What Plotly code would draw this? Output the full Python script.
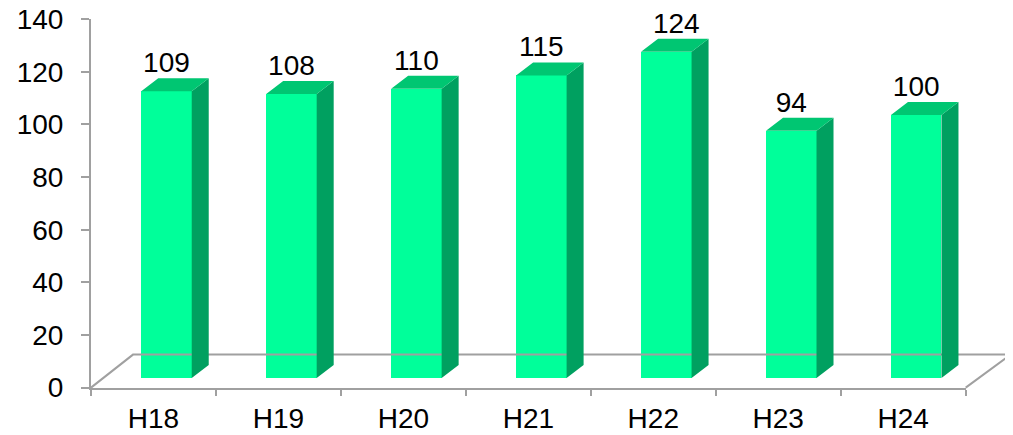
import plotly.graph_objects as go

# ---- data ----
CATEGORIES = ["H18", "H19", "H20", "H21", "H22", "H23", "H24"]
VALUES = [109, 108, 110, 115, 124, 94, 100]
Y_TICKS = [0, 20, 40, 60, 80, 100, 120, 140]

# ---- style / geometry (pixels, page coordinates of the reference) ----
PAGE_OFF = 8  # default page body margin
W, H = 1013 - PAGE_OFF, 435 - PAGE_OFF
AX_LEFT, AX_RIGHT = 91.0 - PAGE_OFF, 965.7 - PAGE_OFF
Y0_PX, YTOP_PX = 387.6 - PAGE_OFF, 19.2 - PAGE_OFF
YMAX = 140
CAT_PX = (AX_RIGHT - AX_LEFT) / len(CATEGORIES)
VAL_PX = (Y0_PX - YTOP_PX) / YMAX

FLOOR_BACK_LEFT_DX, FLOOR_BACK_RIGHT_DX, FLOOR_DY = 42, 45, 33
BAR_FRONT_DX, BAR_FRONT_DY = 13, 9.5
BAR_W_PX = 50.5
BAR_DEPTH_DX, BAR_DEPTH_DY = 17, 13
LABEL_GAP_PX = 13
LABEL_NUDGE_PX = [0, 0, 0, 0, 10, 0, 0]

FRONT_C, TOP_C, SIDE_C = "#00FF9A", "#00C672", "#00A060"
LINE_C = "#A0A0A0"
FONT = "Liberation Sans, Arial, sans-serif"
FS = 28

def ux(px):
    return px / CAT_PX

def uy(px):
    return px / VAL_PX

fig = go.Figure()

# helper trace on the visible axes (gives category ticks)
fig.add_trace(go.Scatter(x=CATEGORIES, y=VALUES, mode="markers",
                         marker=dict(opacity=0), hoverinfo="skip",
                         showlegend=False, xaxis="x", yaxis="y"))

# floor outline
n = len(CATEGORIES)
xl, xr = -0.5, n - 0.5
fx = [xl, xl + ux(FLOOR_BACK_LEFT_DX), xr + ux(FLOOR_BACK_RIGHT_DX), xr]
fy = [0, uy(FLOOR_DY), uy(FLOOR_DY), 0]
fig.add_trace(go.Scatter(x=fx, y=fy, mode="lines",
                         line=dict(color=LINE_C, width=2),
                         hoverinfo="skip", showlegend=False,
                         xaxis="x2", yaxis="y2"))

# bar geometry
centers = [i + ux(BAR_FRONT_DX) for i in range(n)]
bw = ux(BAR_W_PX)
base = uy(BAR_FRONT_DY)
ddx, ddy = ux(BAR_DEPTH_DX), uy(BAR_DEPTH_DY)

# front faces
fig.add_trace(go.Bar(x=centers, y=VALUES, base=base, width=bw,
                     marker=dict(color=FRONT_C, line=dict(width=0)),
                     hoverinfo="skip", showlegend=False,
                     xaxis="x2", yaxis="y2"))

# side and top faces
sx, sy, tx, ty = [], [], [], []
for c, v in zip(centers, VALUES):
    l, r = c - bw / 2, c + bw / 2
    b, t = base, base + v
    sx += [r, r, r + ddx, r + ddx, r, None]
    sy += [b, t, t + ddy, b + ddy, b, None]
    tx += [l, r, r + ddx, l + ddx, l, None]
    ty += [t, t, t + ddy, t + ddy, t, None]
fig.add_trace(go.Scatter(x=sx, y=sy, mode="lines", fill="toself",
                         fillcolor=SIDE_C, line=dict(width=0, color=SIDE_C),
                         hoverinfo="skip", showlegend=False,
                         xaxis="x2", yaxis="y2"))
fig.add_trace(go.Scatter(x=tx, y=ty, mode="lines", fill="toself",
                         fillcolor=TOP_C, line=dict(width=0, color=TOP_C),
                         hoverinfo="skip", showlegend=False,
                         xaxis="x2", yaxis="y2"))

# value labels
lx = [c + ux(d) for c, d in zip(centers, LABEL_NUDGE_PX)]
ly = [base + v + ddy + uy(LABEL_GAP_PX) for v in VALUES]
fig.add_trace(go.Scatter(x=lx, y=ly, mode="text", text=[str(v) for v in VALUES],
                         textposition="middle center",
                         textfont=dict(family=FONT, size=FS, color="black"),
                         cliponaxis=False, hoverinfo="skip", showlegend=False,
                         xaxis="x2", yaxis="y2"))

fig.update_layout(
    width=W, height=H,
    margin=dict(l=0, r=0, t=0, b=0, pad=0),
    paper_bgcolor="white", plot_bgcolor="rgba(0,0,0,0)",
    font=dict(family=FONT, size=FS, color="black"),
    showlegend=False,
    bargap=0,
    xaxis=dict(domain=[AX_LEFT / W, AX_RIGHT / W], type="category",
               categoryorder="array", categoryarray=CATEGORIES,
               range=[-0.5, n - 0.5], tickson="boundaries",
               ticks="outside", ticklen=6, tickcolor=LINE_C, tickwidth=2,
               showline=True, linecolor=LINE_C, linewidth=2,
               showgrid=False, zeroline=False, automargin=False,
               ticklabelstandoff=5, ticklabeloverflow="allow",
               tickfont=dict(family=FONT, size=FS, color="black"),
               fixedrange=True),
    yaxis=dict(domain=[(H - Y0_PX) / H, (H - YTOP_PX) / H],
               range=[0, YMAX + 0.01], tickvals=Y_TICKS,
               ticks="outside", ticklen=8, tickcolor=LINE_C, tickwidth=2,
               showline=True, linecolor=LINE_C, linewidth=2,
               showgrid=False, zeroline=False, automargin=False,
               ticklabelstandoff=12, ticklabeloverflow="allow",
               tickfont=dict(family=FONT, size=FS, color="black"),
               fixedrange=True),
    xaxis2=dict(domain=[0, 1], anchor="y2",
                range=[-0.5 - AX_LEFT / CAT_PX, -0.5 + (W - AX_LEFT) / CAT_PX],
                visible=False, fixedrange=True),
    yaxis2=dict(domain=[0, 1], anchor="x2",
                range=[-(H - Y0_PX) / VAL_PX, Y0_PX / VAL_PX],
                visible=False, fixedrange=True),
)

fig.write_html("out.html")
